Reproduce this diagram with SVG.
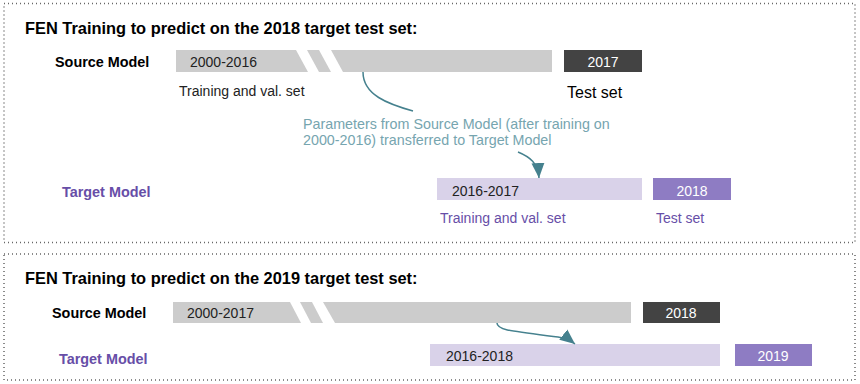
<svg xmlns="http://www.w3.org/2000/svg" width="860" height="384" viewBox="0 0 860 384">
<defs>
<style>
text{font-family:"Liberation Sans",Arial,sans-serif;}
.frame{fill:none;stroke:#666;stroke-width:1.5;stroke-dasharray:1 3;}
.title{font-size:16.4px;font-weight:bold;fill:#000;}
.model{font-size:14.4px;font-weight:bold;fill:#000;}
.tmodel{font-size:14.4px;font-weight:bold;fill:#674EA7;}
.lbl{font-size:14px;fill:#222;}
.wlbl{font-size:14px;fill:#fff;text-anchor:middle;}
.plbl{font-size:14px;fill:#674EA7;}
.gray{fill:#CCCCCC;}
.dark{fill:#434343;}
.lp{fill:#D9D2E9;}
.pp{fill:#8E7CC3;}
.conn{fill:none;stroke:#45818E;stroke-width:1.5;}
.note{font-size:14.3px;fill:#76A5AF;}
</style>
<marker id="ah" markerUnits="userSpaceOnUse" markerWidth="16" markerHeight="14" refX="15" refY="6.5" orient="auto" viewBox="0 0 16 13">
<path d="M0,0 L15,6.5 L0,13 Z" fill="#45818E"/>
</marker>
</defs>
<rect width="860" height="384" fill="#fff"/>

<g id="panel1">
<rect class="frame" x="4" y="3.5" width="851" height="239"/>
<text class="title" x="25" y="33.5">FEN Training to predict on the 2018 target test set:</text>
</g>

<g id="source1">
<text class="model" x="55" y="67">Source Model</text>
<polygon class="gray" points="176,50 296,50 308,72 176,72"/>
<polygon class="gray" points="307,50 319,50 331,72 319,72"/>
<polygon class="gray" points="331,50 552,50 552,72 343,72"/>
<text class="lbl" x="190" y="67">2000-2016</text>
<text class="lbl" x="179" y="96">Training and val. set</text>
</g>
<g id="test1">
<rect class="dark" x="564" y="50" width="78" height="22"/>
<text class="wlbl" x="603" y="67">2017</text>
<text x="567" y="98" style="font-size:16px;fill:#000">Test set</text>
</g>

<g id="target1">
<text class="tmodel" x="62" y="197">Target Model</text>
<rect class="lp" x="437" y="178" width="205" height="22"/>
<text class="lbl" x="452" y="196">2016-2017</text>
<text class="plbl" x="440" y="223">Training and val. set</text>
</g>
<g id="ttest1">
<rect class="pp" x="653" y="178" width="78" height="22"/>
<text class="wlbl" x="692" y="196">2018</text>
<text class="plbl" x="656" y="223">Test set</text>
</g>

<g id="panel2">
<rect class="frame" x="4" y="254" width="851" height="126"/>
<text class="title" x="25" y="283.5">FEN Training to predict on the 2019 target test set:</text>
</g>

<g id="source2">
<text class="model" x="52" y="318">Source Model</text>
<polygon class="gray" points="173,302 290,302 301,323 173,323"/>
<polygon class="gray" points="300,302 312,302 323,323 311,323"/>
<polygon class="gray" points="323,302 631,302 631,323 335,323"/>
<text class="lbl" x="187" y="318">2000-2017</text>
</g>
<g id="test2">
<rect class="dark" x="643" y="302" width="77" height="21"/>
<text class="wlbl" x="681" y="318">2018</text>
</g>

<g id="target2">
<text class="tmodel" x="59" y="364">Target Model</text>
<rect class="lp" x="430" y="344" width="290" height="22"/>
<text class="lbl" x="446" y="361">2016-2018</text>
</g>
<g id="ttest2">
<rect class="pp" x="735" y="344" width="77" height="22"/>
<text class="wlbl" x="773" y="361">2019</text>
</g>

<g id="connectors">
<path class="conn" d="M363,72 C363,95 388,104 413,111"/>
<text class="note" x="303" y="129">Parameters from Source Model (after training on</text>
<text class="note" x="303" y="145">2000-2016) transferred to Target Model</text>
<path class="conn" d="M518,152 C530,157 538,163 539,178" marker-end="url(#ah)"/>
<path class="conn" d="M497,323 C497,330 510,331 558,337 C565,338 570,340 575,344" marker-end="url(#ah)"/>
</g>
</svg>
